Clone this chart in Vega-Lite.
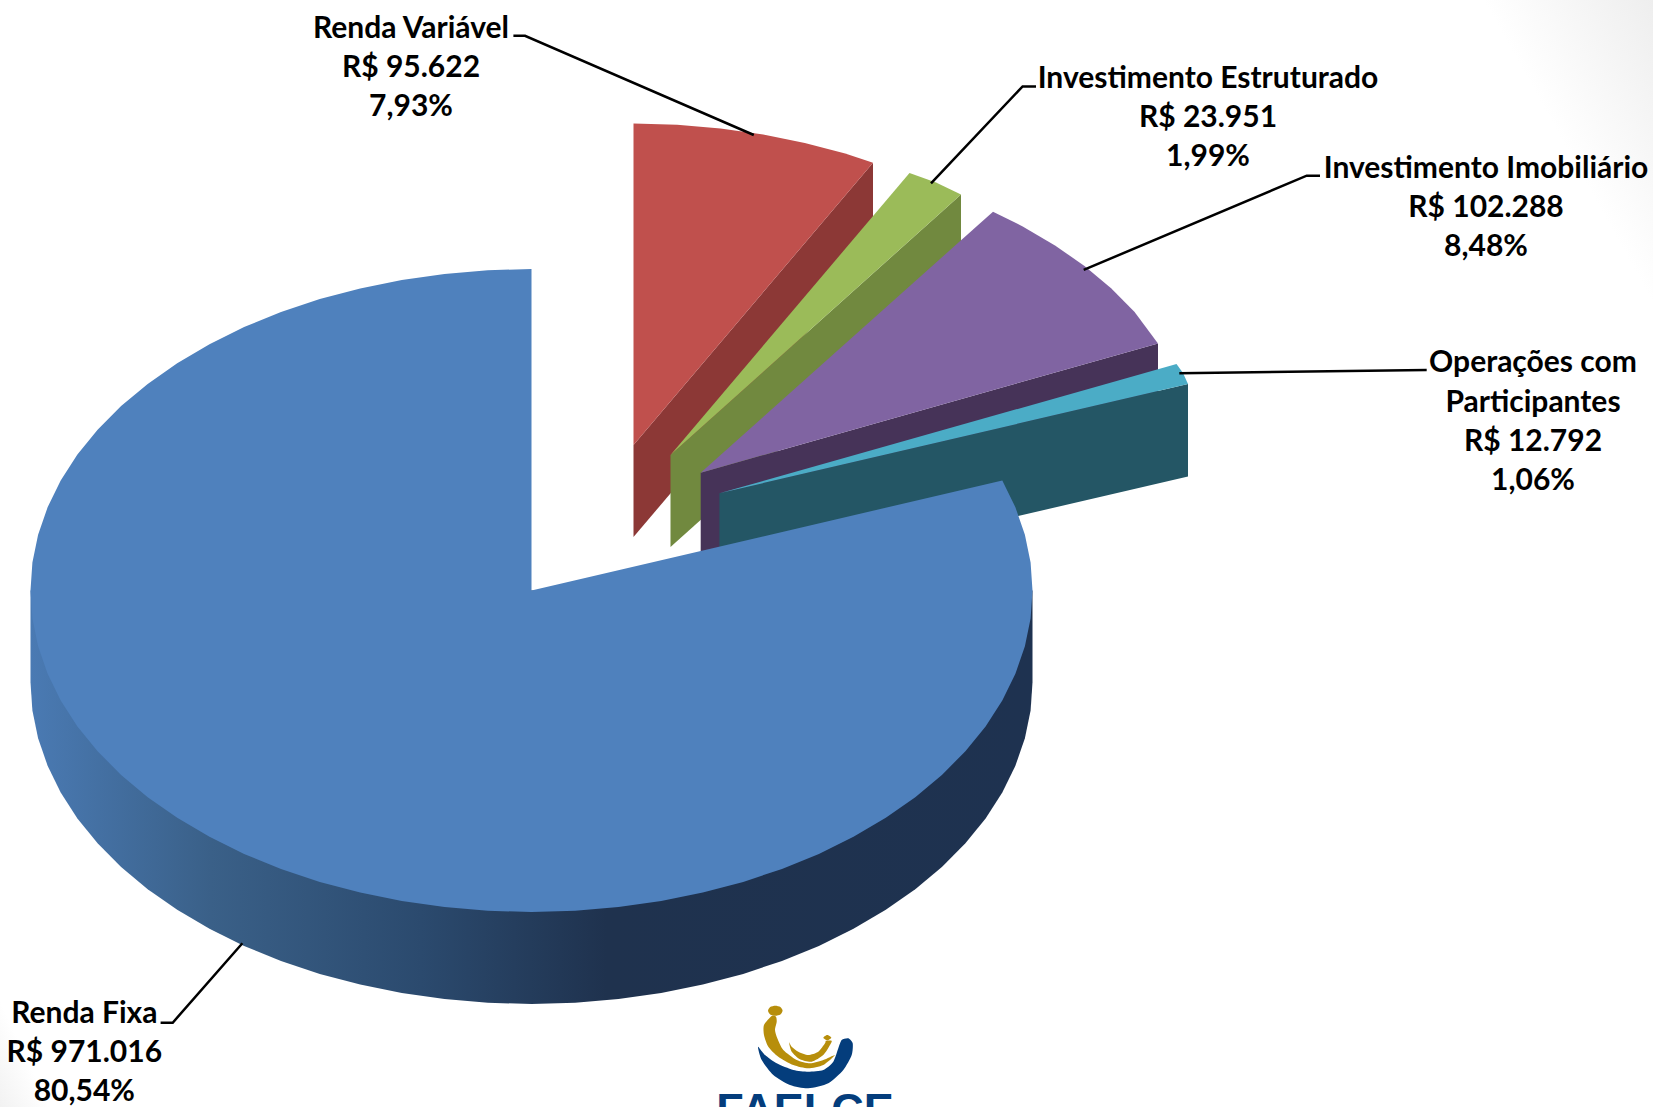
{
"$schema":"https://vega.github.io/schema/vega-lite/v6.json",
"width":1653,"height":1107,"autosize":"none","padding":0,"background":"#ffffff",
"config":{"view":{"stroke":null}},
"encoding":{
 "x":{"field":"x","type":"quantitative","scale":{"domain":[0,1653],"nice":false,"zero":false},"axis":null},
 "y":{"field":"y","type":"quantitative","scale":{"domain":[1107,0],"nice":false,"zero":false},"axis":null}
},
"datasets":{
"backdrop":[{"x":0,"y":0,"i":1},{"x":1653,"y":0,"i":2},{"x":1653,"y":1107,"i":3},{"x":0,"y":1107,"i":4}],
"cornerShade":[{"x":0,"y":1000,"i":1},{"x":50,"y":1107,"i":2},{"x":0,"y":1107,"i":3}],
"back":[
{"face":"Renda Variável lateral","i":1,"x":633.5,"y":445},{"face":"Renda Variável lateral","i":2,"x":873,"y":162.7},{"face":"Renda Variável lateral","i":3,"x":873,"y":254.7},{"face":"Renda Variável lateral","i":4,"x":633.5,"y":537},
{"face":"Renda Variável","i":1,"x":633.5,"y":445},{"face":"Renda Variável","i":2,"x":633.5,"y":123.5},{"face":"Renda Variável","i":3,"x":677.2,"y":124.7},{"face":"Renda Variável","i":4,"x":720.5,"y":128.4},{"face":"Renda Variável","i":5,"x":763.2,"y":134.5},{"face":"Renda Variável","i":6,"x":804.8,"y":142.9},{"face":"Renda Variável","i":7,"x":845.2,"y":153.6},{"face":"Renda Variável","i":8,"x":873,"y":162.7},
{"face":"Investimento Estruturado lateral","i":1,"x":670.5,"y":455},{"face":"Investimento Estruturado lateral","i":2,"x":961,"y":194.5},{"face":"Investimento Estruturado lateral","i":3,"x":961,"y":286.5},{"face":"Investimento Estruturado lateral","i":4,"x":670.5,"y":547},
{"face":"Investimento Estruturado","i":1,"x":670.5,"y":455},{"face":"Investimento Estruturado","i":2,"x":909.5,"y":173},{"face":"Investimento Estruturado","i":3,"x":936,"y":182.4},{"face":"Investimento Estruturado","i":4,"x":961,"y":194.5},
{"face":"Investimento Imobiliário lateral","i":1,"x":700.7,"y":472.7},{"face":"Investimento Imobiliário lateral","i":2,"x":1158,"y":343.5},{"face":"Investimento Imobiliário lateral","i":3,"x":1158,"y":435.5},{"face":"Investimento Imobiliário lateral","i":4,"x":700.7,"y":564.7},
{"face":"Investimento Imobiliário","i":1,"x":700.7,"y":472.7},{"face":"Investimento Imobiliário","i":2,"x":993,"y":211.7},{"face":"Investimento Imobiliário","i":3,"x":1022.7,"y":226.4},{"face":"Investimento Imobiliário","i":4,"x":1055,"y":245.4},{"face":"Investimento Imobiliário","i":5,"x":1084.5,"y":266},{"face":"Investimento Imobiliário","i":6,"x":1111.1,"y":288.3},{"face":"Investimento Imobiliário","i":7,"x":1134.6,"y":311.9},{"face":"Investimento Imobiliário","i":8,"x":1158,"y":343.5},
{"face":"Operações com Participantes lateral","i":1,"x":719.4,"y":493.3},{"face":"Operações com Participantes lateral","i":2,"x":1188,"y":384},{"face":"Operações com Participantes lateral","i":3,"x":1188,"y":476.5},{"face":"Operações com Participantes lateral","i":4,"x":719.4,"y":585.5},
{"face":"Operações com Participantes","i":1,"x":719.4,"y":493.3},{"face":"Operações com Participantes","i":2,"x":1176.5,"y":364},{"face":"Operações com Participantes","i":3,"x":1183,"y":373},{"face":"Operações com Participantes","i":4,"x":1188,"y":384}
],
"blueSide":[
{"i":1,"x":1032.5,"y":590.5},{"i":2,"x":1032.5,"y":682.5},{"i":3,"x":1030.6,"y":710.5},{"i":4,"x":1024.9,"y":738.3},{"i":5,"x":1015.4,"y":765.7},{"i":6,"x":1002.3,"y":792.5},{"i":7,"x":985.6,"y":818.4},{"i":8,"x":965.4,"y":843.3},{"i":9,"x":941.9,"y":866.9},{"i":10,"x":915.3,"y":889.2},{"i":11,"x":885.8,"y":909.8},{"i":12,"x":853.5,"y":928.8},{"i":13,"x":818.9,"y":945.9},{"i":14,"x":782,"y":960.9},{"i":15,"x":743.2,"y":973.9},{"i":16,"x":702.8,"y":984.6},{"i":17,"x":661.2,"y":993},{"i":18,"x":618.5,"y":999.1},{"i":19,"x":575.2,"y":1002.8},{"i":20,"x":531.5,"y":1004},{"i":21,"x":487.8,"y":1002.8},{"i":22,"x":444.5,"y":999.1},{"i":23,"x":401.8,"y":993},{"i":24,"x":360.2,"y":984.6},{"i":25,"x":319.8,"y":973.9},{"i":26,"x":281,"y":960.9},{"i":27,"x":244.1,"y":945.9},{"i":28,"x":209.5,"y":928.8},{"i":29,"x":177.2,"y":909.8},{"i":30,"x":147.7,"y":889.2},{"i":31,"x":121.1,"y":866.9},{"i":32,"x":97.6,"y":843.3},{"i":33,"x":77.4,"y":818.4},{"i":34,"x":60.7,"y":792.5},{"i":35,"x":47.6,"y":765.7},{"i":36,"x":38.1,"y":738.3},{"i":37,"x":32.4,"y":710.5},{"i":38,"x":30.5,"y":682.5},{"i":39,"x":30.5,"y":590.5}
],
"top":[
{"face":"Renda Fixa","i":0,"x":531.5,"y":590.5},{"face":"Renda Fixa","i":1,"x":1002.3,"y":480.5},{"face":"Renda Fixa","i":2,"x":1015.4,"y":507.3},{"face":"Renda Fixa","i":3,"x":1024.9,"y":534.7},{"face":"Renda Fixa","i":4,"x":1030.6,"y":562.5},{"face":"Renda Fixa","i":5,"x":1032.5,"y":590.5},{"face":"Renda Fixa","i":6,"x":1030.6,"y":618.5},{"face":"Renda Fixa","i":7,"x":1024.9,"y":646.3},{"face":"Renda Fixa","i":8,"x":1015.4,"y":673.7},{"face":"Renda Fixa","i":9,"x":1002.3,"y":700.5},{"face":"Renda Fixa","i":10,"x":985.6,"y":726.4},{"face":"Renda Fixa","i":11,"x":965.4,"y":751.3},{"face":"Renda Fixa","i":12,"x":941.9,"y":774.9},{"face":"Renda Fixa","i":13,"x":915.3,"y":797.2},{"face":"Renda Fixa","i":14,"x":885.8,"y":817.8},{"face":"Renda Fixa","i":15,"x":853.5,"y":836.8},{"face":"Renda Fixa","i":16,"x":818.9,"y":853.9},{"face":"Renda Fixa","i":17,"x":782,"y":868.9},{"face":"Renda Fixa","i":18,"x":743.2,"y":881.9},{"face":"Renda Fixa","i":19,"x":702.8,"y":892.6},{"face":"Renda Fixa","i":20,"x":661.2,"y":901},{"face":"Renda Fixa","i":21,"x":618.5,"y":907.1},{"face":"Renda Fixa","i":22,"x":575.2,"y":910.8},{"face":"Renda Fixa","i":23,"x":531.5,"y":912},{"face":"Renda Fixa","i":24,"x":487.8,"y":910.8},{"face":"Renda Fixa","i":25,"x":444.5,"y":907.1},{"face":"Renda Fixa","i":26,"x":401.8,"y":901},{"face":"Renda Fixa","i":27,"x":360.2,"y":892.6},{"face":"Renda Fixa","i":28,"x":319.8,"y":881.9},{"face":"Renda Fixa","i":29,"x":281,"y":868.9},{"face":"Renda Fixa","i":30,"x":244.1,"y":853.9},{"face":"Renda Fixa","i":31,"x":209.5,"y":836.8},{"face":"Renda Fixa","i":32,"x":177.2,"y":817.8},{"face":"Renda Fixa","i":33,"x":147.7,"y":797.2},{"face":"Renda Fixa","i":34,"x":121.1,"y":774.9},{"face":"Renda Fixa","i":35,"x":97.6,"y":751.3},{"face":"Renda Fixa","i":36,"x":77.4,"y":726.4},{"face":"Renda Fixa","i":37,"x":60.7,"y":700.5},{"face":"Renda Fixa","i":38,"x":47.6,"y":673.7},{"face":"Renda Fixa","i":39,"x":38.1,"y":646.3},{"face":"Renda Fixa","i":40,"x":32.4,"y":618.5},{"face":"Renda Fixa","i":41,"x":30.5,"y":590.5},{"face":"Renda Fixa","i":42,"x":32.4,"y":562.5},{"face":"Renda Fixa","i":43,"x":38.1,"y":534.7},{"face":"Renda Fixa","i":44,"x":47.6,"y":507.3},{"face":"Renda Fixa","i":45,"x":60.7,"y":480.5},{"face":"Renda Fixa","i":46,"x":77.4,"y":454.6},{"face":"Renda Fixa","i":47,"x":97.6,"y":429.8},{"face":"Renda Fixa","i":48,"x":121.1,"y":406.1},{"face":"Renda Fixa","i":49,"x":147.7,"y":383.9},{"face":"Renda Fixa","i":50,"x":177.2,"y":363.2},{"face":"Renda Fixa","i":51,"x":209.5,"y":344.2},{"face":"Renda Fixa","i":52,"x":244.1,"y":327.1},{"face":"Renda Fixa","i":53,"x":281,"y":312.1},{"face":"Renda Fixa","i":54,"x":319.8,"y":299.1},{"face":"Renda Fixa","i":55,"x":360.2,"y":288.4},{"face":"Renda Fixa","i":56,"x":401.8,"y":280},{"face":"Renda Fixa","i":57,"x":444.5,"y":273.9},{"face":"Renda Fixa","i":58,"x":487.8,"y":270.2},{"face":"Renda Fixa","i":59,"x":531.5,"y":269}
],
"leaders":[
{"category":"Renda Variável","i":1,"x":513.4,"y":35.8},{"category":"Renda Variável","i":2,"x":525,"y":35.8},{"category":"Renda Variável","i":3,"x":753.8,"y":135},
{"category":"Investimento Estruturado","i":1,"x":1036,"y":86.4},{"category":"Investimento Estruturado","i":2,"x":1022.6,"y":86.4},{"category":"Investimento Estruturado","i":3,"x":931,"y":183.4},
{"category":"Investimento Imobiliário","i":1,"x":1320,"y":175.7},{"category":"Investimento Imobiliário","i":2,"x":1306.7,"y":175.7},{"category":"Investimento Imobiliário","i":3,"x":1083.7,"y":269.9},
{"category":"Operações com Participantes","i":1,"x":1426.7,"y":370},{"category":"Operações com Participantes","i":2,"x":1179.3,"y":373.3},
{"category":"Renda Fixa","i":1,"x":242.4,"y":943.3},{"category":"Renda Fixa","i":2,"x":172.7,"y":1022.7},{"category":"Renda Fixa","i":3,"x":160.6,"y":1022.7}
],
"labels":[
{"line":"Renda Variável","x":411,"y":27.4},{"line":"R$ 95.622","x":411,"y":66},{"line":"7,93%","x":411,"y":105},
{"line":"Investimento Estruturado","x":1208,"y":77},{"line":"R$ 23.951","x":1208,"y":116},{"line":"1,99%","x":1208,"y":155},
{"line":"Investimento Imobiliário","x":1486,"y":166.6},{"line":"R$ 102.288","x":1486,"y":205.6},{"line":"8,48%","x":1486,"y":244.6},
{"line":"Operações com","x":1533,"y":360.5},{"line":"Participantes","x":1533,"y":400.6},{"line":"R$ 12.792","x":1533,"y":439.6},{"line":"1,06%","x":1533,"y":478.6},
{"line":"Renda Fixa","x":84.3,"y":1012},{"line":"R$ 971.016","x":84.3,"y":1051},{"line":"80,54%","x":84.3,"y":1090}
],
"logoBlue":[
{"i":1,"x":758,"y":1046.7},{"i":2,"x":761.7,"y":1060},{"i":3,"x":773.3,"y":1075},{"i":4,"x":790,"y":1085},{"i":5,"x":808.3,"y":1088.3},{"i":6,"x":828.3,"y":1083.3},{"i":7,"x":843.3,"y":1070},{"i":8,"x":851.7,"y":1055},{"i":9,"x":852.7,"y":1043.3},{"i":10,"x":848.3,"y":1038.3},{"i":11,"x":841.7,"y":1040},{"i":12,"x":838.3,"y":1048.3},{"i":13,"x":833.3,"y":1061.7},{"i":14,"x":823.3,"y":1070},{"i":15,"x":808.3,"y":1071.7},{"i":16,"x":793.3,"y":1070},{"i":17,"x":776.7,"y":1063.3},{"i":18,"x":765,"y":1055}
],
"logoGold":[
{"part":"a","i":1,"x":771.7,"y":1016},{"part":"a","i":2,"x":764,"y":1025},{"part":"a","i":3,"x":764,"y":1035},{"part":"a","i":4,"x":768.3,"y":1046.7},{"part":"a","i":5,"x":778.3,"y":1056.7},{"part":"a","i":6,"x":793.3,"y":1065},{"part":"a","i":7,"x":808.3,"y":1068.3},{"part":"a","i":8,"x":823.3,"y":1065},{"part":"a","i":9,"x":835,"y":1055},{"part":"a","i":10,"x":823.3,"y":1060},{"part":"a","i":11,"x":810,"y":1063.3},{"part":"a","i":12,"x":796.7,"y":1060},{"part":"a","i":13,"x":783.3,"y":1050},{"part":"a","i":14,"x":777.3,"y":1038.3},{"part":"a","i":15,"x":775,"y":1030},{"part":"a","i":16,"x":776.7,"y":1021.7},{"part":"a","i":17,"x":776,"y":1016.7},
{"part":"b","i":1,"x":789,"y":1042.3},{"part":"b","i":2,"x":791.7,"y":1051.7},{"part":"b","i":3,"x":800,"y":1059.3},{"part":"b","i":4,"x":811.7,"y":1061.7},{"part":"b","i":5,"x":823.3,"y":1055},{"part":"b","i":6,"x":830,"y":1045},{"part":"b","i":7,"x":831.7,"y":1040.7},{"part":"b","i":8,"x":826,"y":1040.7},{"part":"b","i":9,"x":825,"y":1043.3},{"part":"b","i":10,"x":818.3,"y":1051.7},{"part":"b","i":11,"x":808.3,"y":1055},{"part":"b","i":12,"x":798.3,"y":1051.7},{"part":"b","i":13,"x":791.7,"y":1046.7},
{"part":"c","i":1,"x":768,"y":1010.7},{"part":"c","i":2,"x":770.2,"y":1007},{"part":"c","i":3,"x":775.3,"y":1005.7},{"part":"c","i":4,"x":780.4,"y":1007},{"part":"c","i":5,"x":782.6,"y":1010.7},{"part":"c","i":6,"x":780.4,"y":1014.4},{"part":"c","i":7,"x":775.3,"y":1015.7},{"part":"c","i":8,"x":770.2,"y":1014.4},
{"part":"d","i":1,"x":823.3,"y":1037.7},{"part":"d","i":2,"x":827.3,"y":1035},{"part":"d","i":3,"x":831.3,"y":1037.7},{"part":"d","i":4,"x":827.3,"y":1040.3}
],
"logoText":[{"line":"FAELCE","x":805,"y":1125}]
},
"layer":[
{"data":{"name":"backdrop"},
 "mark":{"type":"line","strokeWidth":0,"fill":{"gradient":"linear","x1":0.7,"y1":0.1124,"x2":1,"y2":0,"stops":[{"offset":0,"color":"#ffffff"},{"offset":0.7,"color":"#ffffff"},{"offset":1,"color":"#eeeeee"}]}},
 "encoding":{"order":{"field":"i","type":"quantitative"}}},
{"data":{"name":"cornerShade"},
 "mark":{"type":"line","strokeWidth":0,"fill":{"gradient":"linear","x1":0.5,"y1":0.5,"x2":0,"y2":1,"stops":[{"offset":0,"color":"#ffffff"},{"offset":1,"color":"#f2f2f2"}]}},
 "encoding":{"order":{"field":"i","type":"quantitative"}}},
{"data":{"name":"back"},
 "mark":{"type":"line","strokeWidth":0},
 "encoding":{"order":{"field":"i","type":"quantitative"},"detail":{"field":"face"},
  "fill":{"field":"face","type":"nominal","legend":null,"scale":{"domain":["Renda Variável lateral","Renda Variável","Investimento Estruturado lateral","Investimento Estruturado","Investimento Imobiliário lateral","Investimento Imobiliário","Operações com Participantes lateral","Operações com Participantes"],"range":["#8C3836","#C0504D","#71893F","#9BBB59","#463358","#8064A2","#245665","#4BACC6"]}}}},
{"data":{"name":"blueSide"},
 "mark":{"type":"line","strokeWidth":0,"fill":{"gradient":"linear","x1":0,"y1":0,"x2":1,"y2":0,"stops":[{"offset":0,"color":"#4a7ab3"},{"offset":0.18,"color":"#3a6088"},{"offset":0.39,"color":"#2b4a6e"},{"offset":0.575,"color":"#1f324e"},{"offset":1,"color":"#1e3250"}]}},
 "encoding":{"order":{"field":"i","type":"quantitative"}}},
{"data":{"name":"top"},
 "mark":{"type":"line","strokeWidth":0,"fill":"#4F81BD"},
 "encoding":{"order":{"field":"i","type":"quantitative"}}},
{"data":{"name":"leaders"},
 "mark":{"type":"line","stroke":"#000000","strokeWidth":2.5},
 "encoding":{"order":{"field":"i","type":"quantitative"},"detail":{"field":"category"}}},
{"data":{"name":"labels"},
 "mark":{"type":"text","font":"Lato","fontWeight":"bold","fontSize":30,"color":"#000000","align":"center","baseline":"middle","dy":2},
 "encoding":{"text":{"field":"line","type":"nominal"}}},
{"data":{"name":"logoBlue"},
 "mark":{"type":"line","strokeWidth":0,"fill":"#043D7C","interpolate":"cardinal-closed","tension":0.3},
 "encoding":{"order":{"field":"i","type":"quantitative"}}},
{"data":{"name":"logoGold"},
 "mark":{"type":"line","strokeWidth":0,"fill":"#B78E0B","interpolate":"cardinal-closed","tension":0.3},
 "encoding":{"order":{"field":"i","type":"quantitative"},"detail":{"field":"part"}}},
{"data":{"name":"logoText"},
 "mark":{"type":"text","font":"Liberation Sans","fontSize":45,"color":"#043D7C","align":"center","baseline":"alphabetic","fontWeight":"bold"},
 "encoding":{"text":{"field":"line","type":"nominal"}}}
]
}
